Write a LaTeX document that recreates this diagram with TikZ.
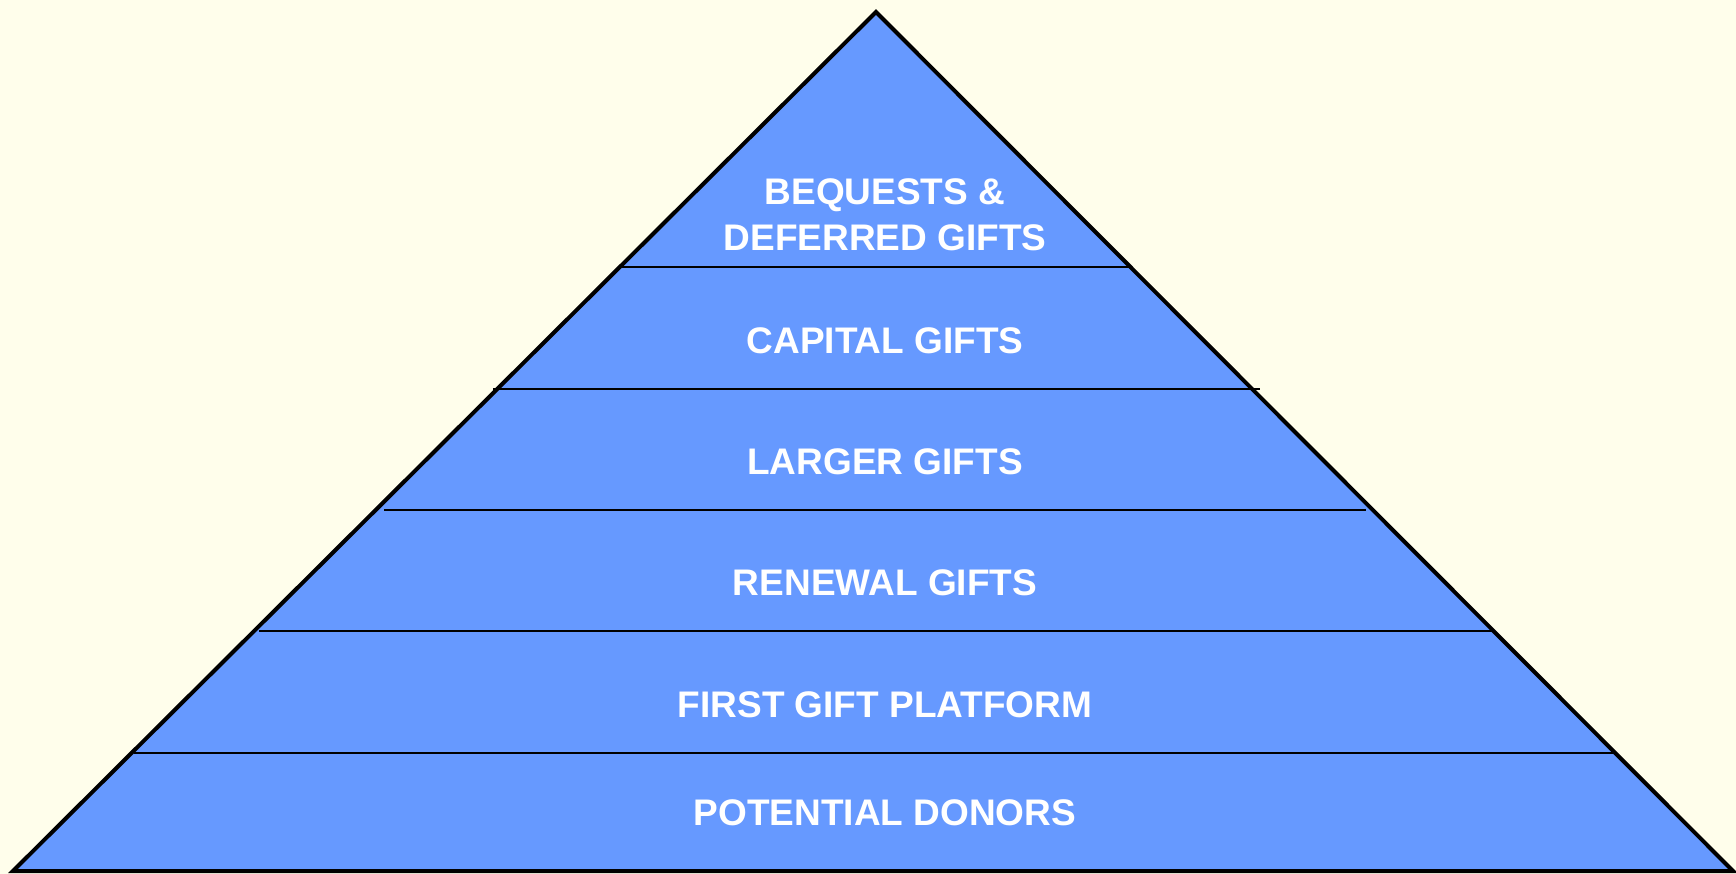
\documentclass[tikz,border=0pt]{standalone}
\usepackage{fontspec}
\setmainfont{Liberation Sans}
\definecolor{bgcream}{HTML}{FFFEEB}
\definecolor{tierblue}{HTML}{6699FF}
\begin{document}
\begin{tikzpicture}[x=1pt,y=-1pt,
  tierlabel/.style={text=white,font=\fontsize{37}{45}\selectfont\bfseries,align=center,inner sep=0pt},
  divider/.style={line width=1.8pt,black}]
\fill[bgcream] (0,0) rectangle (1736,874);
\useasboundingbox (0,0) rectangle (1736,874);
% pyramid body
\coordinate (apex) at (876,12);
\coordinate (bl) at (13,871);
\coordinate (br) at (1733,871);
\fill[tierblue] (apex) -- (br) -- (bl) -- cycle;
% tier dividers
\draw[divider] (621,267) -- (1130,267);
\draw[divider] (493,389) -- (1260,389);
\draw[divider] (384,510) -- (1366,510);
\draw[divider] (259,631) -- (1492,631);
\draw[divider] (134,753) -- (1617,753);
% outline
\draw[line width=4pt,line join=miter] (apex) -- (br) -- (bl) -- cycle;
% labels
\node[tierlabel,anchor=base] (t1a) at (885,205) {BEQUESTS \&};
\node[tierlabel,anchor=base] (t1b) at (885,251) {DEFERRED GIFTS};
\node[tierlabel,anchor=base] (t2) at (885,353) {CAPITAL GIFTS};
\node[tierlabel,anchor=base] (t3) at (885,474) {LARGER GIFTS};
\node[tierlabel,anchor=base] (t4) at (885,595) {RENEWAL GIFTS};
\node[tierlabel,anchor=base] (t5) at (885,717) {FIRST GIFT PLATFORM};
\node[tierlabel,anchor=base] (t6) at (885,825) {POTENTIAL DONORS};
\end{tikzpicture}
\end{document}
